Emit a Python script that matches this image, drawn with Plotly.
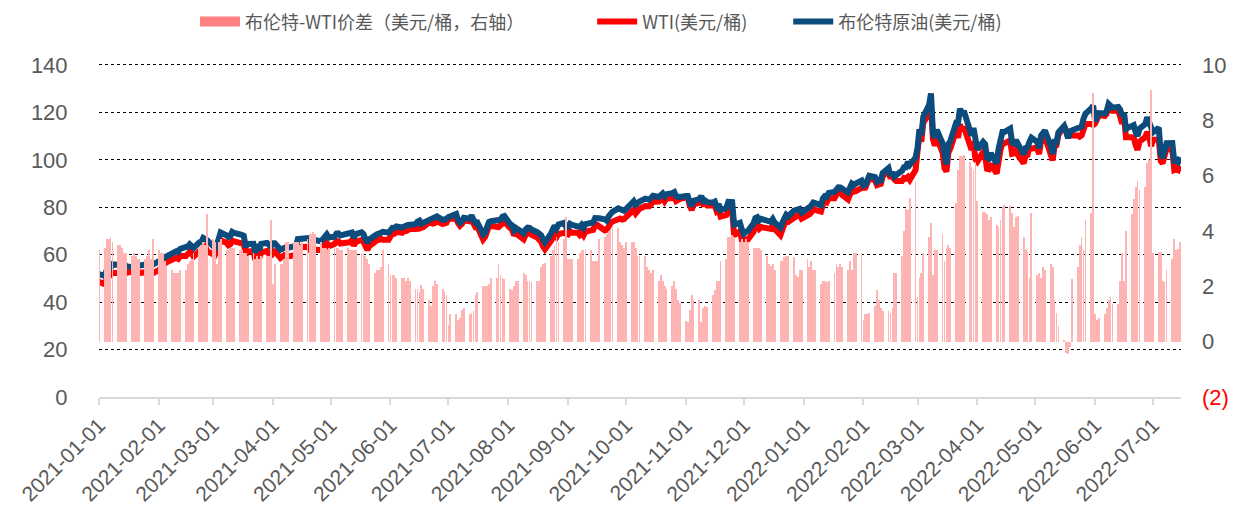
import pandas as pd
import plotly.graph_objects as go

# ---------------- data (weekly rows, Mon-Fri; first row = Fri 2021-01-01) ----------------
brent_rows = [
    [51.80],
    [51.09, 53.60, 54.30, 54.38, 55.99], [55.66, 56.58, 56.06, 56.42, 55.10],
    [54.75, 55.90, 56.08, 56.10, 55.41], [55.88, 55.91, 55.81, 55.53, 55.88],
    [57.25, 57.46, 58.46, 58.84, 59.34], [60.56, 61.09, 61.47, 61.14, 62.43],
    [63.30, 63.35, 64.34, 63.93, 62.91], [65.24, 65.37, 67.04, 66.88, 66.13],
    [63.69, 62.70, 64.07, 66.74, 69.36], [68.24, 67.52, 67.90, 69.63, 69.22],
    [68.88, 68.39, 68.00, 63.28, 64.53], [64.62, 60.79, 64.41, 61.95, 64.57],
    [64.98, 64.14, 63.54, 64.86, 64.86], [62.15, 62.74, 63.16, 63.20, 62.95],
    [63.28, 63.67, 66.58, 66.94, 66.77], [67.05, 66.57, 65.32, 65.40, 66.11],
    [65.65, 66.42, 67.27, 68.56, 67.25], [67.56, 68.88, 68.96, 68.09, 68.28],
    [68.32, 68.55, 69.32, 67.05, 68.71], [69.46, 68.71, 66.66, 65.11, 66.44],
    [68.46, 68.65, 68.87, 69.46, 69.63], [69.32, 70.25, 71.35, 71.31, 71.89],
    [71.49, 72.22, 72.22, 72.52, 72.69], [72.86, 73.99, 74.39, 73.08, 73.51],
    [74.90, 74.81, 75.19, 75.56, 76.18], [74.68, 74.76, 75.13, 75.84, 76.17],
    [77.16, 74.53, 73.43, 74.12, 75.55], [75.16, 76.49, 74.76, 73.47, 73.59],
    [68.62, 69.35, 72.23, 73.79, 74.10], [74.50, 74.48, 74.74, 76.05, 76.33],
    [72.89, 72.41, 70.38, 71.29, 70.70], [69.04, 70.63, 71.44, 71.31, 70.59],
    [69.51, 69.03, 68.23, 66.45, 65.18], [68.75, 71.05, 72.25, 71.07, 72.70],
    [73.41, 71.63, 71.59, 73.03, 72.61], [72.22, 71.69, 72.60, 71.45, 72.92],
    [73.51, 73.60, 75.46, 75.67, 75.34], [74.92, 74.36, 76.19, 77.25, 78.09],
    [79.53, 79.09, 78.64, 78.52, 79.28], [81.26, 82.56, 81.08, 81.95, 82.39],
    [83.65, 83.42, 83.18, 84.00, 84.86], [84.33, 85.08, 85.82, 84.61, 85.53],
    [85.99, 86.40, 84.58, 84.32, 84.38], [84.71, 84.72, 81.99, 80.54, 82.74],
    [83.43, 84.78, 82.64, 82.87, 82.17], [82.05, 82.43, 80.28, 81.24, 78.89],
    [79.70, 82.31, 82.25, 82.22, 72.72], [73.44, 70.57, 68.87, 69.67, 69.88],
    [73.08, 75.44, 75.82, 74.42, 75.15], [74.39, 73.70, 73.88, 75.02, 73.52],
    [71.52, 73.98, 75.29, 76.85, 76.14], [78.60, 78.94, 79.23, 79.32, 77.78],
    [78.98, 80.00, 80.80, 81.99, 81.75], [80.87, 83.72, 84.67, 84.47, 86.06],
    [86.48, 87.51, 88.44, 88.38, 87.89], [86.27, 88.20, 89.96, 89.34, 90.03],
    [91.21, 89.16, 89.47, 91.11, 93.27], [92.69, 90.78, 91.55, 91.41, 94.44],
    [96.48, 93.28, 94.81, 92.97, 93.54], [95.39, 96.84, 96.84, 99.08, 97.93],
    [100.99, 104.97, 112.93, 110.46, 118.11], [123.21, 127.98, 111.14, 109.33, 112.67],
    [106.90, 99.91, 98.02, 106.64, 107.93], [115.62, 115.48, 121.60, 119.03, 120.65],
    [112.48, 110.23, 113.45, 107.91, 104.39], [107.53, 106.64, 101.07, 100.58, 102.78],
    [98.48, 104.64, 108.78, 111.70, 111.70], [113.16, 107.25, 106.80, 108.33, 106.65],
    [102.32, 104.99, 105.32, 107.59, 109.34], [107.58, 104.97, 110.14, 110.90, 112.39],
    [105.94, 102.46, 107.51, 107.45, 111.55], [114.24, 111.93, 109.11, 112.04, 112.55],
    [113.42, 113.56, 114.03, 117.40, 119.43], [121.67, 122.84, 116.29, 117.61, 119.72],
    [119.51, 120.57, 123.58, 123.07, 122.01], [122.27, 121.17, 118.51, 119.81, 113.12],
    [114.13, 114.65, 111.74, 110.05, 113.12], [115.09, 117.98, 116.26, 114.81, 111.63],
    [113.50, 102.77, 100.69, 104.65, 107.02], [107.10, 99.49, 99.57, 99.10, 101.16],
]

wti_rows = [
    [48.52],
    [47.62, 49.93, 50.63, 50.83, 52.24], [52.25, 53.21, 52.91, 53.57, 52.36],
    [52.36, 52.98, 53.31, 53.13, 52.27], [52.77, 52.61, 52.85, 52.34, 52.20],
    [53.55, 54.76, 55.69, 56.23, 56.85], [57.97, 58.36, 58.68, 58.24, 59.47],
    [59.47, 60.05, 61.14, 60.52, 59.24], [61.49, 61.67, 63.22, 63.53, 61.50],
    [60.64, 59.75, 61.28, 63.83, 66.09], [65.05, 64.01, 64.44, 66.02, 65.61],
    [65.39, 64.80, 64.60, 60.00, 61.42], [61.55, 57.76, 61.18, 58.56, 60.97],
    [61.56, 60.55, 59.16, 61.45, 61.45], [58.65, 59.33, 59.77, 59.60, 59.32],
    [59.70, 60.18, 63.15, 63.46, 63.13], [63.38, 62.44, 61.35, 61.43, 62.14],
    [61.91, 62.94, 63.86, 65.01, 63.58], [64.49, 65.69, 65.63, 64.71, 64.90],
    [64.92, 65.28, 66.08, 63.82, 65.37], [66.27, 65.49, 63.36, 62.05, 63.58],
    [66.05, 66.07, 66.21, 66.85, 66.32], [66.32, 67.72, 68.83, 68.81, 69.62],
    [69.23, 70.05, 69.96, 70.29, 70.91], [70.88, 72.12, 71.04, 71.04, 71.64],
    [73.66, 73.06, 73.08, 73.30, 74.05], [72.91, 72.98, 73.47, 75.23, 75.16],
    [75.16, 73.37, 72.20, 72.94, 74.56], [74.10, 75.25, 73.13, 71.65, 71.81],
    [66.42, 67.42, 70.30, 71.91, 72.07], [71.91, 71.65, 72.39, 73.62, 73.95],
    [71.26, 70.56, 68.15, 69.09, 68.28], [66.48, 68.29, 69.25, 69.09, 68.44],
    [67.29, 66.59, 65.46, 63.50, 62.32], [65.64, 67.54, 68.36, 67.42, 68.74],
    [69.21, 68.50, 68.59, 69.99, 69.29], [69.29, 68.35, 69.30, 68.14, 69.72],
    [70.45, 70.46, 72.61, 72.61, 71.97], [70.29, 70.56, 72.23, 73.30, 73.98],
    [75.45, 75.29, 74.83, 75.03, 75.88], [77.62, 78.93, 77.43, 78.30, 79.35],
    [80.52, 80.64, 80.44, 81.31, 82.28], [82.44, 82.96, 83.87, 82.50, 83.76],
    [83.76, 84.65, 82.66, 82.81, 83.57], [84.05, 83.91, 80.86, 78.81, 81.27],
    [81.93, 84.15, 81.34, 81.59, 80.79], [80.88, 80.76, 78.36, 79.01, 76.10],
    [76.75, 78.50, 78.39, 78.39, 68.15], [69.95, 66.18, 65.57, 66.50, 66.26],
    [69.49, 72.05, 72.36, 70.94, 71.67], [71.29, 70.73, 70.87, 72.38, 70.86],
    [68.23, 71.12, 72.76, 73.79, 73.79], [75.57, 75.98, 76.56, 76.99, 75.21],
    [76.08, 76.99, 77.85, 79.46, 78.90], [78.23, 81.22, 82.64, 82.12, 83.82],
    [83.82, 85.43, 86.96, 86.90, 85.14], [83.31, 85.60, 87.35, 86.61, 86.82],
    [88.15, 88.20, 88.26, 90.27, 92.31], [91.32, 89.36, 89.66, 89.88, 93.10],
    [95.46, 92.07, 93.66, 91.76, 91.07], [91.07, 92.35, 92.10, 92.81, 91.59],
    [95.72, 103.41, 110.60, 107.67, 115.68], [119.40, 123.70, 108.70, 106.02, 109.33],
    [103.01, 96.44, 95.04, 102.98, 104.70], [112.12, 109.27, 114.93, 112.34, 113.90],
    [105.96, 104.24, 107.82, 100.28, 99.27], [103.28, 101.96, 96.23, 96.03, 98.26],
    [94.29, 100.60, 104.25, 106.95, 106.95], [108.21, 102.56, 102.75, 103.79, 102.07],
    [98.54, 101.70, 102.02, 105.36, 104.69], [105.17, 102.41, 107.81, 108.26, 109.77],
    [103.09, 99.76, 105.71, 106.13, 110.49], [114.20, 112.40, 109.59, 112.21, 110.28],
    [110.29, 109.77, 110.33, 114.09, 115.07], [115.07, 114.67, 115.26, 116.87, 118.87],
    [118.50, 119.41, 122.11, 121.51, 120.67], [120.93, 118.93, 115.31, 117.59, 109.56],
    [109.56, 109.52, 106.19, 104.27, 107.62], [109.57, 111.76, 109.78, 105.76, 108.43],
    [108.43, 99.50, 98.53, 102.73, 104.79], [104.09, 95.84, 96.30, 95.78, 97.59],
]

spread_rows = [
    [3.3],
    [3.4, 3.7, 3.7, 3.8, 3.6], [3.5, 3.5, 3.4, 3.2, 3.2],
    [3.1, 3.2, 3.1, 3.0, 3.0], [3.0, 3.1, 3.3, 3.0, 3.7],
    [3.3, 3.2, 3.2, 2.9, 2.7], [2.6, 2.5, 2.5, 2.5, 2.6],
    [2.6, 2.8, 2.9, 3.0, 3.2], [3.4, 3.5, 3.6, 3.5, 4.6],
    [3.7, 3.6, 2.8, 3.6, 3.7], [3.3, 3.3, 3.4, 3.4, 3.4],
    [3.3, 3.3, 3.2, 3.2, 3.1], [3.2, 3.0, 3.1, 3.0, 3.1],
    [3.1, 3.1, 4.4, 2.1, 2.8], [2.8, 2.8, 3.0, 3.6, 3.6],
    [3.6, 3.6, 3.6, 3.5, 3.6], [3.7, 3.9, 3.9, 3.95, 3.9],
    [3.6, 3.4, 3.4, 3.3, 3.4], [3.4, 3.4, 3.4, 3.3, 3.3],
    [3.4, 3.3, 3.3, 3.3, 3.3], [3.2, 3.2, 3.1, 3.0, 2.8],
    [2.5, 2.6, 2.6, 2.7, 3.3], [2.8, 2.4, 2.4, 2.4, 2.3],
    [2.3, 2.3, 2.2, 2.3, 2.2], [1.9, 1.9, 1.8, 2.05, 1.9],
    [1.5, 1.3, 2.0, 2.2, 2.1], [1.9, 1.8, 1.7, 0.6, 1.0],
    [1.0, 0.8, 0.85, 1.15, 1.2], [1.0, 1.05, 1.1, 1.7, 1.8],
    [2.0, 2.0, 2.0, 2.1, 2.3], [2.3, 2.8, 2.4, 2.3, 2.25],
    [1.9, 1.85, 2.0, 2.2, 2.2], [2.5, 2.4, 2.2, 2.2, 2.15],
    [2.2, 2.2, 2.7, 2.8, 2.85], [3.1, 3.3, 3.5, 3.8, 3.6],
    [3.7, 4.5, 3.0, 3.0, 3.0], [3.0, 3.2, 3.3, 3.3, 3.35],
    [3.3, 2.9, 2.9, 2.9, 3.7], [3.8, 3.9, 4.0, 4.0, 4.1],
    [4.1, 3.6, 3.5, 3.4, 3.6], [3.6, 3.6, 3.4, 3.1, 3.1],
    [3.1, 2.7, 2.6, 2.5, 2.6], [2.2, 2.4, 2.2, 2.0, 1.9],
    [2.0, 2.2, 1.9, 1.5, 1.4], [0.75, 0.7, 1.15, 1.7, 1.5],
    [1.5, 0.7, 1.2, 1.3, 1.25], [1.7, 1.85, 2.2, 2.2, 2.9],
    [3.0, 3.8, 3.8, 3.85, 3.8], [3.6, 3.7, 3.6, 3.7, 3.6],
    [3.4, 3.4, 3.4, 3.4, 3.3], [3.1, 2.8, 2.75, 2.8, 2.6],
    [2.9, 2.9, 3.05, 3.1, 3.1], [3.05, 2.4, 2.35, 2.6, 2.6],
    [3.0, 2.7, 2.9, 2.6, 2.6], [2.1, 2.2, 2.2, 2.15, 2.2],
    [2.5, 2.8, 2.7, 2.8, 2.7], [2.6, 2.9, 2.6, 3.2, 3.2],
    [3.2, 0.8, 1.0, 1.0, 1.05], [1.3, 1.85, 1.5, 1.2, 1.1],
    [1.1, 1.05, 1.2, 2.5, 2.5], [3.1, 4.0, 4.8, 4.75, 5.2],
    [5.8, 1.6, 2.3, 2.5, 3.2], [3.8, 4.3, 2.4, 3.3, 3.3],
    [3.9, 2.9, 3.4, 3.5, 3.4], [5.0, 6.2, 6.7, 6.7, 6.75],
    [6.5, 6.3, 6.2, 6.5, 5.1], [4.7, 4.7, 4.6, 4.4, 4.5],
    [4.2, 4.15, 4.4, 4.85, 4.95], [4.9, 4.65, 4.15, 4.5, 4.55],
    [3.8, 3.3, 3.25, 2.3, 4.65], [2.4, 2.5, 2.3, 2.7, 2.6],
    [2.8, 2.7, 1.5, 1.05, 0.55], [0.05, -0.4, -0.45, -0.2, 2.25],
    [2.7, 3.5, 3.8, 3.3, 4.4], [4.65, 9.0, 1.0, 0.8, 0.85],
    [1.0, 1.2, 1.5, 1.6, 1.35], [1.35, 2.2, 3.2, 2.2, 4.0],
    [4.6, 5.15, 5.6, 5.8, 5.5], [5.6, 6.45, 6.55, 9.1, 3.2],
    [3.25, 3.25, 2.2, 2.15, 2.6], [3.0, 3.7, 3.3, 3.35, 3.6],
]

month_ticks = pd.date_range("2021-01-01", "2022-07-01", freq="MS")
tick_labels = [d.strftime("%Y-%m-%d") for d in month_ticks]

left_ticks = [0, 20, 40, 60, 80, 100, 120, 140]
right_ticks = [-2, 0, 2, 4, 6, 8, 10]
right_labels = ['<span style="color:#FF0000">(2)</span>', "0", "2", "4", "6", "8", "10"]

names = ["布伦特-WTI价差（美元/桶，右轴）", "WTI(美元/桶)", "布伦特原油(美元/桶)"]

# ---------------- build ----------------
def flat(rows):
    return [v for r in rows for v in r]

brent = flat(brent_rows)
wti = flat(wti_rows)
spread = flat(spread_rows)
dates = pd.bdate_range("2021-01-01", periods=len(brent))

fig = go.Figure()
# spread bars (right axis)
fig.add_trace(go.Bar(
    x=dates, y=spread, name=names[0], yaxis="y2", showlegend=False,
    width=0.42 * 86400000,
    marker=dict(color="#FFB4B4", line=dict(width=0)),
))
# legend entry for the bars, drawn as a wide swatch
fig.add_trace(go.Scatter(
    x=[None], y=[None], name=names[0] + "\u2002" * 7, mode="lines", yaxis="y2",
    line=dict(color="#FF8080", width=13),
))
fig.add_trace(go.Scatter(
    x=dates, y=wti, name=names[1] + "\u2002" * 4, mode="lines",
    line=dict(color="#FF0000", width=6),
))
fig.add_trace(go.Scatter(
    x=dates, y=brent, name=names[2], mode="lines",
    line=dict(color="#0B4C7C", width=6),
))

tick_font = dict(family="Liberation Sans, Arial, sans-serif", size=22, color="#595959")
x_font = dict(family="Liberation Sans, Arial, sans-serif", size=21, color="#595959")

# body margin is removed (post_script) so the plot area sits at x 99-1181, y 65-397
fig.update_layout(
    width=1239, height=522,
    margin=dict(l=99, r=58, t=63, b=125, autoexpand=False),
    paper_bgcolor="white", plot_bgcolor="white",
    bargap=0,
    showlegend=True,
    legend=dict(
        orientation="h", x=0.0887, xanchor="left", y=1.123, yanchor="middle",
        font=dict(family="Noto Sans CJK SC", size=18, color="#595959"),
        bgcolor="rgba(0,0,0,0)", itemwidth=40,
    ),
    xaxis=dict(
        type="date",
        range=["2021-01-01", "2022-07-15 12:00"],
        tickvals=month_ticks, ticktext=tick_labels,
        tickangle=-45, tickfont=x_font,
        ticks="outside", ticklen=6, tickcolor="#D9D9D9", tickwidth=1.5,
        showline=True, linecolor="#D9D9D9", linewidth=1.5,
        showgrid=False, zeroline=False,
    ),
    yaxis=dict(
        range=[0, 140.84], tickvals=left_ticks,
        tickfont=tick_font,
        ticks="outside", ticklen=26, tickcolor="rgba(0,0,0,0)",
        showgrid=True, gridcolor="#000000", griddash="dot", gridwidth=1,
        zeroline=True, zerolinecolor="#D9D9D9", zerolinewidth=1.5,
        showline=False,
    ),
    yaxis2=dict(
        range=[-2, 10.072], tickvals=right_ticks, ticktext=right_labels,
        overlaying="y", side="right",
        tickfont=tick_font, ticklabelstandoff=20,
        showgrid=False, zeroline=False, showline=False, ticks="",
    ),
)

fig.write_html(
    "out.html",
    config={"displayModeBar": False},
    post_script="document.body.style.margin='0';document.body.style.overflow='hidden';",
)
